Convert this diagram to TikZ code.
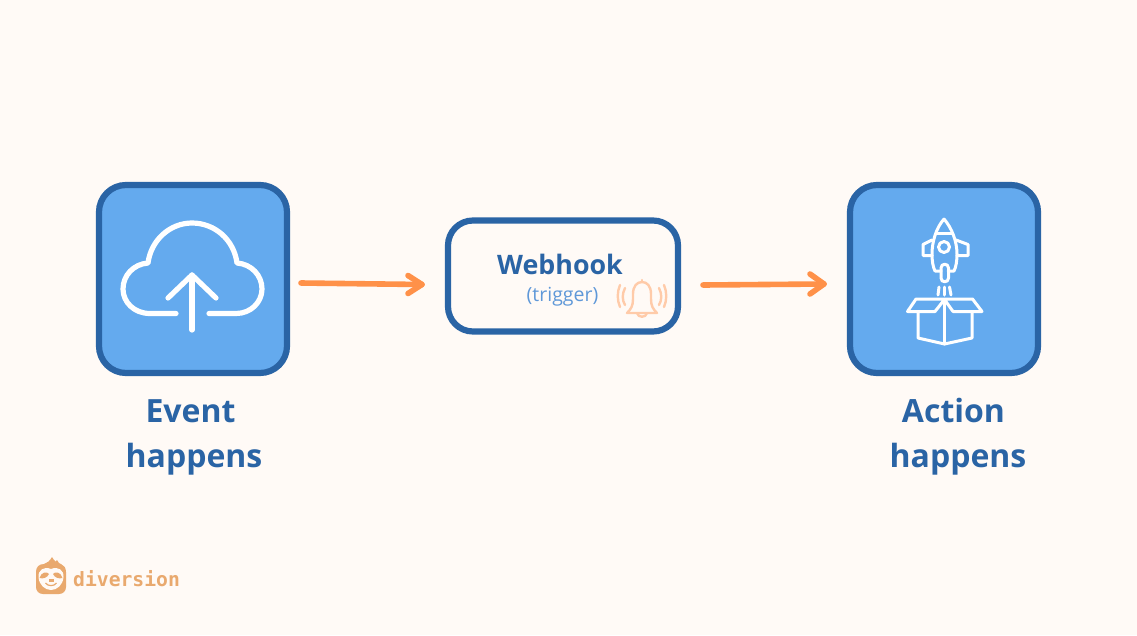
\documentclass[tikz,border=0pt]{standalone}
\usepackage{fontspec}
\setmainfont{Open Sans}
\newfontfamily\monofam{DejaVu Sans Mono}
\definecolor{bgc}{HTML}{FFFAF6}
\definecolor{navy}{HTML}{2A64A5}
\definecolor{sky}{HTML}{64AAEE}
\definecolor{orangea}{HTML}{FF9149}
\definecolor{bellc}{HTML}{FFCBA9}
\definecolor{trigc}{HTML}{5F98D8}
\definecolor{logoc}{HTML}{E9A96E}
\tikzset{
 x=1pt,y=-1pt,
 bigbox/.style={draw=navy,fill=sky,line width=6.2pt,rounded corners=27pt,minimum width=188pt,minimum height=188pt,inner sep=0pt},
 midbox/.style={draw=navy,fill=bgc,line width=6.2pt,rounded corners=25pt,minimum width=230pt,minimum height=111pt,inner sep=0pt},
 icon/.style={draw=white,line width=5.2pt,line cap=round,line join=round},
 thin icon/.style={draw=white,line width=3pt,line cap=round,line join=round},
 bellline/.style={draw=bellc,line width=2.4pt,line cap=round,line join=round},
 arrowline/.style={draw=orangea,line width=5.6pt,line cap=round,line join=round},
 caption/.style={text=navy,font=\fontsize{32}{40}\selectfont\bfseries,inner sep=0pt,anchor=base},
}
\begin{document}
\begin{tikzpicture}
\useasboundingbox (0,0) rectangle (1137,635);
\fill[bgc] (0,0) rectangle (1137,635);
\node[bigbox] (event) at (193,279) {};
\node[bigbox] (action) at (944,279) {};
\node[midbox] (hook) at (563,276) {};
\coordinate (a1s) at (301,283);
\coordinate (a1e) at (422,284.5);
\coordinate (a2s) at (703,285);
\coordinate (a2e) at (824,284);
\draw[arrowline] (a1s) -- (a1e);
\draw[arrowline] (a1e) ++(-14,-9) -- (a1e) -- ++(-14,9);
\draw[arrowline] (a2s) -- (a2e);
\draw[arrowline] (a2e) ++(-14,-10) -- (a2e) -- ++(-14,10);
% cloud
\draw[icon] (176,313.5) -- (150,313.5) .. controls (134,313.5) and (123,302) .. (123,289)
 .. controls (123,275) and (134,264) .. (148,263) .. controls (151,240) and (170,223) .. (192,223)
 .. controls (215,223) and (234,240) .. (237,263) .. controls (251,264) and (262,275) .. (262,289)
 .. controls (262,302) and (251,313.5) .. (236,313.5) -- (209,313.5);
\draw[icon] (192,330) -- (192,275);
\draw[icon] (168,298) -- (192,275) -- (216,298);
% rocket
\draw[thin icon] (944,219) .. controls (936,228) and (932,242) .. (932,254) .. controls (932,261) and (933,267) .. (935,271) -- (941,271);
\draw[thin icon] (944,219) .. controls (952,228) and (957,242) .. (957,254) .. controls (957,261) and (956,267) .. (954,271) -- (948,271);
\draw[thin icon] (936,233) -- (952.5,233);
\draw[thin icon] (944,247) circle (5.5);
\draw[thin icon] (941,268) .. controls (941,263) and (948.5,263) .. (948.5,268) -- (948.5,278) .. controls (948.5,283) and (941,283) .. (941,278) -- cycle;
\draw[thin icon] (932,240) -- (923,244.5) -- (923,255.5) -- (932,255.5);
\draw[thin icon] (956,240) -- (968,244.5) -- (968,255.5) -- (957,255.5);
\draw[thin icon] (939,287) -- (938,295);
\draw[thin icon] (944.5,287) -- (944.5,295);
\draw[thin icon] (949.5,287) -- (951,295);
% box
\draw[thin icon] (916,299) -- (907.5,311.5) -- (935,311.5) -- (944.5,299.5) -- (953,311.5) -- (982,311.5) -- (972.5,299) -- cycle;
\draw[thin icon] (918,311.5) -- (918,338) -- (944.5,344) -- (972,338) -- (972,311.5);
\draw[thin icon] (944.5,300) -- (944.5,344);
% webhook text
\node[text=navy,font=\fontsize{26.8}{32}\selectfont\bfseries,inner sep=0pt] (wt) at (560,264) {Webhook};
\node[text=trigc,font=\fontsize{19.5}{24}\selectfont,inner sep=0pt] (tr) at (562.5,297) {(trigger)};
% bell
\draw[bellline] (627,313) .. controls (631,309) and (633,306) .. (633,299) -- (633,294) .. controls (633,286) and (637,282) .. (642,282) .. controls (647,282) and (651,286) .. (651,294) -- (651,299) .. controls (651,306) and (653,309) .. (657,313) -- cycle;
\draw[bellline] (642,282) -- (642,280);
\draw[bellline] (637,313) .. controls (638,318) and (646,318) .. (647,313);
\draw[bellline] (625,288) .. controls (622,294) and (622,300) .. (625,305);
\draw[bellline] (620,285) .. controls (617,292) and (617,300) .. (620,307);
\draw[bellline] (659,288) .. controls (662,294) and (662,300) .. (659,305);
\draw[bellline] (664,285) .. controls (667,292) and (667,300) .. (664,307);
% captions
\node[caption] (evt) at (190.5,422) {Event};
\node[caption] (evh) at (194,467) {happens};
\node[caption] (act) at (953.5,422) {Action};
\node[caption] (ach) at (958,467) {happens};
% logo
\fill[logoc] (36,572) .. controls (36,567) and (39,564) .. (44,564) .. controls (47,563) and (50,561) .. (52,557) .. controls (53,559) and (54,560) .. (55,561) .. controls (55,562) and (56,562) .. (57,560) .. controls (58,563) and (60,564) .. (61,564) .. controls (64,565) and (66,568) .. (66,572) -- (66,587) .. controls (66,591) and (63,594) .. (59,594) -- (43,594) .. controls (39,594) and (36,591) .. (36,587) -- cycle;
\fill[bgc] (51,569) .. controls (44,566) and (38,570) .. (38.5,577) .. controls (39,585) and (45,590) .. (51,590) .. controls (57,590) and (63,585) .. (63.5,577) .. controls (64,570) and (58,566) .. (51,569) -- cycle;
\fill[logoc] (39.5,578) .. controls (41,572) and (47,571) .. (49,574) .. controls (47,578) and (43,579) .. (39.5,578) -- cycle;
\fill[logoc] (62.5,578) .. controls (61,572) and (55,571) .. (53,574) .. controls (55,578) and (59,579) .. (62.5,578) -- cycle;
\fill[logoc] (48.5,579) rectangle (53.5,581.5);
\draw[logoc,line width=1.2pt] (45.5,583) .. controls (48,586.5) and (54,586.5) .. (56.5,583);
\node[text=logoc,font=\monofam\fontsize{19.7}{24}\selectfont\bfseries,inner sep=0pt,anchor=west] (brand) at (73,579) {diversion};
\end{tikzpicture}
\end{document}
